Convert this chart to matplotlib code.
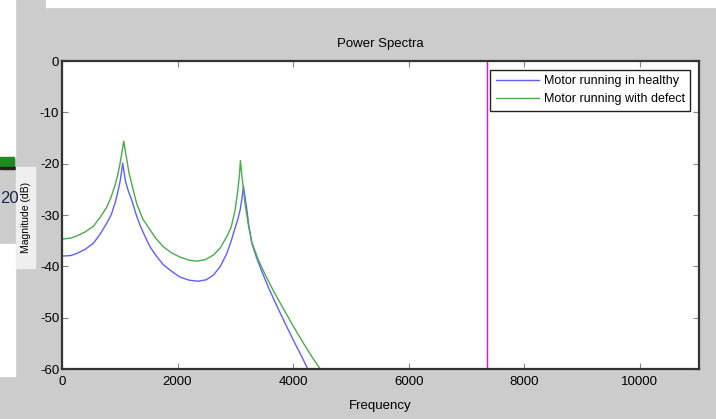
import matplotlib
matplotlib.use('Agg')
import matplotlib.pyplot as plt
from matplotlib.patches import Rectangle

# power spectra read off the AR estimate (frequency in Hz, magnitude in dB)
f_healthy = [0, 150, 254, 400, 543, 650, 774, 850, 918, 960, 1005, 1030, 1051,
             1075, 1100, 1150, 1207, 1280, 1351, 1430, 1524, 1620, 1755, 1900,
             2044, 2200, 2361, 2500, 2621, 2740, 2852, 2930, 2996, 3040, 3083,
             3112, 3141, 3165, 3200, 3230, 3285, 3370, 3459, 3580, 3718, 3870,
             4036, 4150, 4255]
db_healthy = [-38.0, -37.9, -37.5, -36.7, -35.5, -33.9, -31.6, -30.0, -27.7,
              -25.8, -23.5, -21.6, -19.9, -21.8, -23.5, -25.4, -27.1, -29.8,
              -32.0, -34.0, -36.2, -37.8, -39.7, -41.0, -42.1, -42.7, -42.9,
              -42.6, -41.7, -40.0, -37.5, -35.0, -32.5, -31.0, -29.0, -27.0,
              -24.4, -26.3, -29.0, -31.8, -35.5, -38.4, -41.0, -44.3, -47.7,
              -51.3, -55.1, -57.6, -60.0]

f_defect = [0, 150, 254, 400, 543, 650, 774, 850, 918, 960, 1005, 1040, 1068,
            1100, 1130, 1160, 1230, 1293, 1400, 1524, 1620, 1755, 1900, 2044,
            2200, 2333, 2480, 2621, 2740, 2852, 2930, 2996, 3040, 3070, 3089,
            3115, 3141, 3170, 3230, 3285, 3400, 3516, 3670, 3834, 4000, 4180,
            4330, 4469]
db_defect = [-34.7, -34.5, -34.1, -33.3, -32.2, -30.6, -28.5, -26.5, -24.2,
             -22.4, -20.0, -17.6, -15.6, -17.8, -19.8, -21.8, -25.0, -27.8,
             -30.8, -32.9, -34.5, -36.2, -37.4, -38.2, -38.8, -39.0, -38.7,
             -37.8, -36.4, -34.2, -32.3, -29.0, -25.5, -22.3, -19.4, -22.6,
             -25.0, -28.0, -32.2, -35.3, -38.8, -41.6, -45.0, -48.3, -51.6,
             -55.0, -57.7, -60.0]

marker_freq = 7350
x_ticks = [0, 2000, 4000, 6000, 8000, 10000]
y_ticks = [0, -10, -20, -30, -40, -50, -60]

plt.rcParams['font.family'] = ['Liberation Sans', 'DejaVu Sans']
plt.rcParams['axes.unicode_minus'] = False

W, H = 716, 419
fig = plt.figure(figsize=(W / 100, H / 100), dpi=100, facecolor='#cccccc')


def box(x, y, w, h, color):
    # rectangle in pixel units, origin top-left
    fig.patches.append(Rectangle((x / W, 1 - (y + h) / H), w / W, h / H,
                                 transform=fig.transFigure, color=color,
                                 zorder=0))


# surrounding page bits
box(0, 0, 15, 158, 'white')
box(0, 244, 15, 132, 'white')
box(46, 0, W - 46, 7, 'white')
box(0, 157, 14, 10, '#1f8a1f')
box(0, 167, 15, 2, '#222222')
fig.text(0.5 / W, 1 - 198 / H, '20', ha='left', va='center', fontsize=12,
         color='#1c2550')
box(16, 167, 19, 101, '#efefef')
fig.text(26 / W, 1 - 217 / H, 'Magnitude (dB)', rotation=90, ha='center',
         va='center', fontsize=7.5)

ax = fig.add_axes([62 / W, 1 - 369 / H, 637 / W, 308 / H])
ax.plot(f_healthy, db_healthy, color='#5f5fff', lw=1.0,
        label='Motor running in healthy')
ax.plot(f_defect, db_defect, color='#4caa4c', lw=1.0,
        label='Motor running with defect')
ax.axvline(marker_freq, color='#ff00ff', lw=1.0)

ax.set_xlim(0, 11025)
ax.set_ylim(-60, 0)
ax.set_xticks(x_ticks)
ax.set_yticks(y_ticks)
ax.tick_params(direction='in', length=4, width=0.8, color='#888888',
               top=True, right=True, labelsize=9.5, pad=2)
ax.tick_params(axis='x', pad=5)
for s in ax.spines.values():
    s.set_color('#333333')
    s.set_linewidth(1.6)

ax.set_title('Power Spectra', fontsize=9.5, pad=10)
ax.set_xlabel('Frequency', fontsize=9.5, labelpad=9)

leg = ax.legend(loc='upper right', fontsize=9, handlelength=3.4,
                borderaxespad=0.7, fancybox=False, framealpha=1,
                borderpad=0.45, labelspacing=0.45, handletextpad=0.4)
leg.get_frame().set_edgecolor('#222222')
leg.get_frame().set_linewidth(1.0)

fig.savefig('out.png', dpi=100, facecolor=fig.get_facecolor())
